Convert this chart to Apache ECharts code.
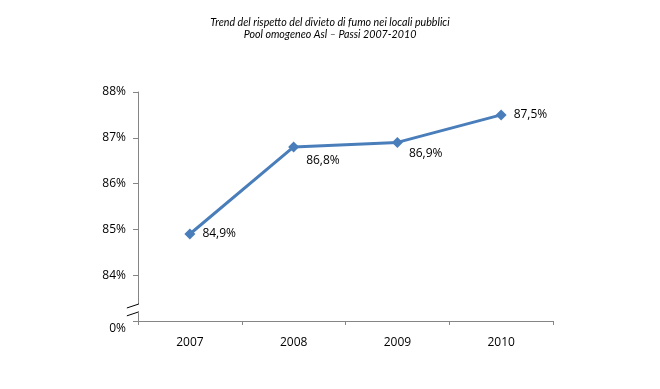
<!DOCTYPE html>
<html><head><meta charset="utf-8">
<script src="https://cdn.jsdelivr.net/npm/echarts@6/dist/echarts.min.js"></script>
<style>html,body{margin:0;padding:0;background:#fff}#c{width:660px;height:389px}</style>
</head><body><div id="c"></div>
<script>
var categories = ['2007', '2008', '2009', '2010'];
var values = [84.9, 86.8, 86.9, 87.5];
var yTicks = [83, 84, 85, 86, 87, 88];
var titleLines = ['Trend del rispetto del divieto di fumo nei locali pubblici', 'Pool omogeneo Asl \u2013 Passi 2007-2010'];

var labelPos = [null, [18, 19], [17, 17], null];
var chart = echarts.init(document.getElementById('c'), null, {renderer: 'canvas'});
var fmt = function (v) { return v.toFixed(1).replace('.', ',') + '%'; };
var option = {
  animation: false,
  title: {
    text: titleLines.join('\n'), left: 'center', top: 12,
    textStyle: {fontFamily: 'Lato', fontStyle: 'italic', fontWeight: 'normal', fontSize: 10.7, color: '#000', lineHeight: 12}
  },
  grid: {left: 138, right: 107, top: 92, bottom: 68},
  xAxis: {
    type: 'category', data: categories, boundaryGap: true,
    axisLine: {lineStyle: {color: '#868686', width: 1}},
    axisTick: {show: true, length: 4, lineStyle: {color: '#868686'}},
    axisLabel: {color: '#000', fontFamily: 'Open Sans', fontSize: 12, margin: 16}
  },
  yAxis: {
    type: 'value', min: yTicks[0], max: yTicks[yTicks.length - 1], interval: 1,
    axisLine: {show: true, lineStyle: {color: '#868686', width: 1}},
    axisTick: {show: true, length: 5, lineStyle: {color: '#868686'}},
    splitLine: {show: false},
    axisLabel: {
      color: '#000', fontFamily: 'Open Sans', fontSize: 12, margin: 12,
      formatter: function (v) { return v === yTicks[0] ? '{z|0%}' : v + '%'; },
      rich: {z: {fontFamily: 'Open Sans', fontSize: 12, color: '#000', padding: [16, 0, 0, 0]}}
    }
  },
  series: [{
    type: 'line', data: values.map(function (v, i) {
      var d = {value: v};
      if (labelPos[i]) d.label = {position: labelPos[i], align: 'left', verticalAlign: 'middle'};
      return d;
    }),
    symbol: 'diamond', symbolSize: 11,
    lineStyle: {color: '#4a7ebb', width: 3},
    itemStyle: {color: '#4a7ebb'},
    label: {show: true, position: 'right', distance: 7, color: '#000', fontFamily: 'Open Sans', fontSize: 12,
      formatter: function (p) { return fmt(p.value); }}
  }]
};
chart.setOption(option);
var x0 = chart.convertToPixel({xAxisIndex: 0}, 0) - 52;
var yA = chart.convertToPixel({yAxisIndex: 0}, 83.2);
var yB = chart.convertToPixel({yAxisIndex: 0}, 83.35);
chart.setOption({graphic: [
  {type: 'rect', shape: {x: x0 - 1, y: yB - 1, width: 3, height: yA - yB + 2}, style: {fill: '#fff'}, z: 100},
  {type: 'line', shape: {x1: x0 - 11, y1: yB + 3, x2: x0 + 1, y2: yB - 1}, style: {stroke: '#000', lineWidth: 1}, z: 101},
  {type: 'line', shape: {x1: x0 - 11, y1: yA + 4, x2: x0 + 1, y2: yA}, style: {stroke: '#000', lineWidth: 1}, z: 101}
]});
</script></body></html>
